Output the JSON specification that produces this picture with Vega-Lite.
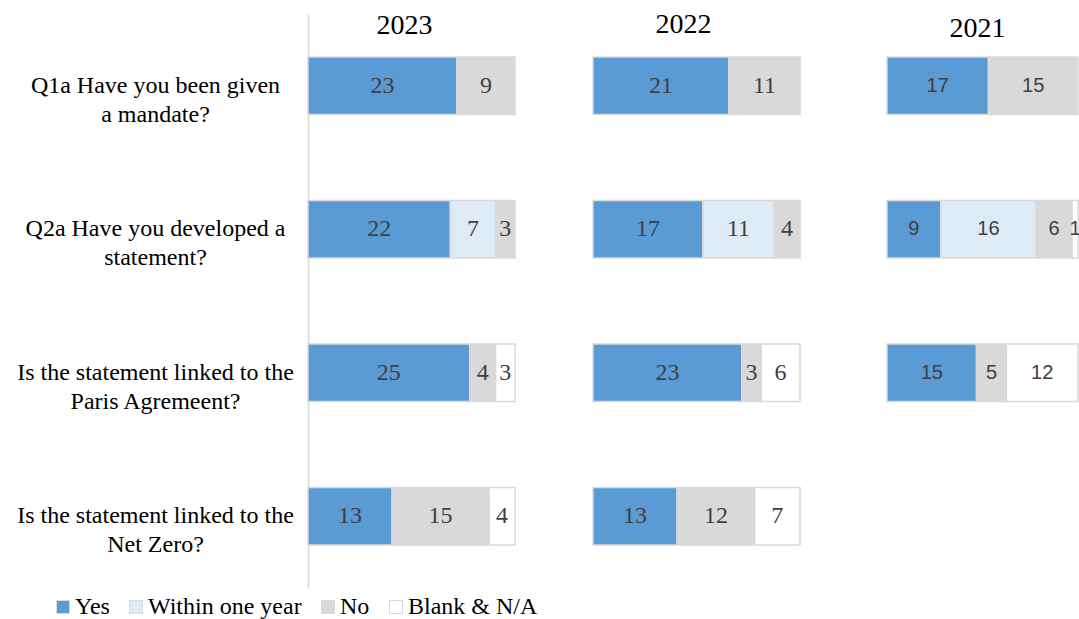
{
  "$schema": "https://vega.github.io/schema/vega-lite/v6.json",
  "padding": {"left": 16, "top": 10, "right": 0, "bottom": 0},
  "background": "white",
  "data": {"values": [
    {"year": "2023", "q": "Q1a Have you been given|a mandate?", "cat": "Yes", "v": 23, "o": 1},
    {"year": "2023", "q": "Q1a Have you been given|a mandate?", "cat": "No", "v": 9, "o": 3},
    {"year": "2023", "q": "Q2a Have you developed a|statement?", "cat": "Yes", "v": 22, "o": 1},
    {"year": "2023", "q": "Q2a Have you developed a|statement?", "cat": "Within one year", "v": 7, "o": 2},
    {"year": "2023", "q": "Q2a Have you developed a|statement?", "cat": "No", "v": 3, "o": 3},
    {"year": "2023", "q": "Is the statement linked to the|Paris Agremeent?", "cat": "Yes", "v": 25, "o": 1},
    {"year": "2023", "q": "Is the statement linked to the|Paris Agremeent?", "cat": "No", "v": 4, "o": 3},
    {"year": "2023", "q": "Is the statement linked to the|Paris Agremeent?", "cat": "Blank & N/A", "v": 3, "o": 4},
    {"year": "2023", "q": "Is the statement linked to the|Net Zero?", "cat": "Yes", "v": 13, "o": 1},
    {"year": "2023", "q": "Is the statement linked to the|Net Zero?", "cat": "No", "v": 15, "o": 3},
    {"year": "2023", "q": "Is the statement linked to the|Net Zero?", "cat": "Blank & N/A", "v": 4, "o": 4},
    {"year": "2022", "q": "Q1a Have you been given|a mandate?", "cat": "Yes", "v": 21, "o": 1},
    {"year": "2022", "q": "Q1a Have you been given|a mandate?", "cat": "No", "v": 11, "o": 3},
    {"year": "2022", "q": "Q2a Have you developed a|statement?", "cat": "Yes", "v": 17, "o": 1},
    {"year": "2022", "q": "Q2a Have you developed a|statement?", "cat": "Within one year", "v": 11, "o": 2},
    {"year": "2022", "q": "Q2a Have you developed a|statement?", "cat": "No", "v": 4, "o": 3},
    {"year": "2022", "q": "Is the statement linked to the|Paris Agremeent?", "cat": "Yes", "v": 23, "o": 1},
    {"year": "2022", "q": "Is the statement linked to the|Paris Agremeent?", "cat": "No", "v": 3, "o": 3},
    {"year": "2022", "q": "Is the statement linked to the|Paris Agremeent?", "cat": "Blank & N/A", "v": 6, "o": 4},
    {"year": "2022", "q": "Is the statement linked to the|Net Zero?", "cat": "Yes", "v": 13, "o": 1},
    {"year": "2022", "q": "Is the statement linked to the|Net Zero?", "cat": "No", "v": 12, "o": 3},
    {"year": "2022", "q": "Is the statement linked to the|Net Zero?", "cat": "Blank & N/A", "v": 7, "o": 4},
    {"year": "2021", "q": "Q1a Have you been given|a mandate?", "cat": "Yes", "v": 17, "o": 1},
    {"year": "2021", "q": "Q1a Have you been given|a mandate?", "cat": "No", "v": 15, "o": 3},
    {"year": "2021", "q": "Q2a Have you developed a|statement?", "cat": "Yes", "v": 9, "o": 1},
    {"year": "2021", "q": "Q2a Have you developed a|statement?", "cat": "Within one year", "v": 16, "o": 2},
    {"year": "2021", "q": "Q2a Have you developed a|statement?", "cat": "No", "v": 6, "o": 3},
    {"year": "2021", "q": "Q2a Have you developed a|statement?", "cat": "Blank & N/A", "v": 1, "o": 4},
    {"year": "2021", "q": "Is the statement linked to the|Paris Agremeent?", "cat": "Yes", "v": 15, "o": 1},
    {"year": "2021", "q": "Is the statement linked to the|Paris Agremeent?", "cat": "No", "v": 5, "o": 3},
    {"year": "2021", "q": "Is the statement linked to the|Paris Agremeent?", "cat": "Blank & N/A", "v": 12, "o": 4}
  ]},
  "spacing": 0,
  "resolve": {"scale": {"x": "independent", "y": "shared", "color": "shared"}, "axis": {"y": "independent", "x": "independent"}},
  "hconcat": [
    {
      "width": 284, "height": 574,
      "transform": [{"filter": "datum.year == '2023'"}],
      "encoding": {
        "y": {"field": "q", "type": "nominal", "sort": null,
          "scale": {"domain": ["Q1a Have you been given|a mandate?", "Q2a Have you developed a|statement?", "Is the statement linked to the|Paris Agremeent?", "Is the statement linked to the|Net Zero?"], "paddingInner": 0.6, "paddingOuter": 0.3},
          "axis": {"title": null, "domainColor": "#d9d9d9", "domainWidth": 1.5, "ticks": false, "tickSize": 0, "labelPadding": 153, "labelAlign": "center", "labelBaseline": "middle", "labelFont": "Liberation Serif", "labelFontSize": 24, "labelColor": "#000000", "labelLineHeight": 29, "labelLimit": 400, "labelExpr": "split(datum.label, '|')"}},
        "order": {"field": "o", "type": "quantitative"}
      },
      "layer": [
        {"mark": {"type": "bar", "stroke": "#d9d9d9", "strokeWidth": 1.5},
         "encoding": {
           "x": {"field": "v", "type": "quantitative", "stack": "zero", "scale": {"domain": [0, 32], "range": [0, 207], "nice": false},
             "axis": {"orient": "top", "title": "2023", "titleX": 68, "titleY": 19, "titleAlign": "left", "titleBaseline": "alphabetic", "titleAngle": 0, "titleFont": "Liberation Serif", "titleFontSize": 28, "titleFontWeight": "normal", "titleColor": "#000000", "domain": false, "ticks": false, "labels": false, "grid": false}},
           "color": {"field": "cat", "type": "nominal",
           "scale": {"domain": ["Yes", "Within one year", "No", "Blank & N/A"], "range": ["#5b9bd5", "#deebf7", "#d9d9d9", "#ffffff"]},
           "legend": {"title": null, "orient": "none", "direction": "horizontal", "legendX": -257, "legendY": 581, "symbolType": "square", "symbolSize": 169, "symbolStrokeColor": "#c8c8c8", "symbolStrokeWidth": 1, "labelFont": "Liberation Serif", "labelFontSize": 24, "labelColor": "#000000", "labelOffset": 0, "columnPadding": 14, "padding": 0}}}},
        {"mark": {"type": "text", "font": "Liberation Serif", "fontSize": 24, "color": "#404040", "baseline": "middle"},
         "encoding": {"x": {"field": "v", "type": "quantitative", "stack": "zero", "bandPosition": 0.5, "scale": {"domain": [0, 32], "range": [0, 207], "nice": false},
             "axis": {"orient": "top", "title": "2023", "titleX": 68, "titleY": 19, "titleAlign": "left", "titleBaseline": "alphabetic", "titleAngle": 0, "titleFont": "Liberation Serif", "titleFontSize": 28, "titleFontWeight": "normal", "titleColor": "#000000", "domain": false, "ticks": false, "labels": false, "grid": false}},
           "detail": {"field": "cat"}, "text": {"field": "v", "type": "quantitative"}}}
      ]
    },
    {
      "width": 293, "height": 574,
      "transform": [{"filter": "datum.year == '2022'"}],
      "encoding": {
        "y": {"field": "q", "type": "nominal", "sort": null,
          "scale": {"domain": ["Q1a Have you been given|a mandate?", "Q2a Have you developed a|statement?", "Is the statement linked to the|Paris Agremeent?", "Is the statement linked to the|Net Zero?"], "paddingInner": 0.6, "paddingOuter": 0.3},
          "axis": null},
        "order": {"field": "o", "type": "quantitative"}
      },
      "layer": [
        {"mark": {"type": "bar", "stroke": "#d9d9d9", "strokeWidth": 1.5},
         "encoding": {
           "x": {"field": "v", "type": "quantitative", "stack": "zero", "scale": {"domain": [0, 32], "range": [0, 207], "nice": false},
             "axis": {"orient": "top", "title": "2022", "titleX": 62, "titleY": 18, "titleAlign": "left", "titleBaseline": "alphabetic", "titleAngle": 0, "titleFont": "Liberation Serif", "titleFontSize": 28, "titleFontWeight": "normal", "titleColor": "#000000", "domain": false, "ticks": false, "labels": false, "grid": false}},
           "color": {"field": "cat", "type": "nominal"}}},
        {"mark": {"type": "text", "font": "Liberation Serif", "fontSize": 24, "color": "#404040", "baseline": "middle"},
         "encoding": {"x": {"field": "v", "type": "quantitative", "stack": "zero", "bandPosition": 0.5, "scale": {"domain": [0, 32], "range": [0, 207], "nice": false},
             "axis": {"orient": "top", "title": "2022", "titleX": 62, "titleY": 18, "titleAlign": "left", "titleBaseline": "alphabetic", "titleAngle": 0, "titleFont": "Liberation Serif", "titleFontSize": 28, "titleFontWeight": "normal", "titleColor": "#000000", "domain": false, "ticks": false, "labels": false, "grid": false}},
           "detail": {"field": "cat"}, "text": {"field": "v", "type": "quantitative"}}}
      ]
    },
    {
      "width": 193, "height": 574,
      "transform": [{"filter": "datum.year == '2021'"}],
      "encoding": {
        "y": {"field": "q", "type": "nominal", "sort": null,
          "scale": {"domain": ["Q1a Have you been given|a mandate?", "Q2a Have you developed a|statement?", "Is the statement linked to the|Paris Agremeent?", "Is the statement linked to the|Net Zero?"], "paddingInner": 0.6, "paddingOuter": 0.3},
          "axis": null},
        "order": {"field": "o", "type": "quantitative"}
      },
      "layer": [
        {"mark": {"type": "bar", "stroke": "#d9d9d9", "strokeWidth": 1.5},
         "encoding": {
           "x": {"field": "v", "type": "quantitative", "stack": "zero", "scale": {"domain": [0, 32], "range": [0, 191], "nice": false},
             "axis": {"orient": "top", "title": "2021", "titleX": 62, "titleY": 22, "titleAlign": "left", "titleBaseline": "alphabetic", "titleAngle": 0, "titleFont": "Liberation Serif", "titleFontSize": 28, "titleFontWeight": "normal", "titleColor": "#000000", "domain": false, "ticks": false, "labels": false, "grid": false}},
           "color": {"field": "cat", "type": "nominal"}}},
        {"mark": {"type": "text", "font": "Liberation Sans", "fontSize": 20, "color": "#404040", "baseline": "middle"},
         "encoding": {"x": {"field": "v", "type": "quantitative", "stack": "zero", "bandPosition": 0.5, "scale": {"domain": [0, 32], "range": [0, 191], "nice": false},
             "axis": {"orient": "top", "title": "2021", "titleX": 62, "titleY": 22, "titleAlign": "left", "titleBaseline": "alphabetic", "titleAngle": 0, "titleFont": "Liberation Serif", "titleFontSize": 28, "titleFontWeight": "normal", "titleColor": "#000000", "domain": false, "ticks": false, "labels": false, "grid": false}},
           "detail": {"field": "cat"}, "text": {"field": "v", "type": "quantitative"}}}
      ]
    }
  ],
  "config": {"view": {"stroke": null}}
}
